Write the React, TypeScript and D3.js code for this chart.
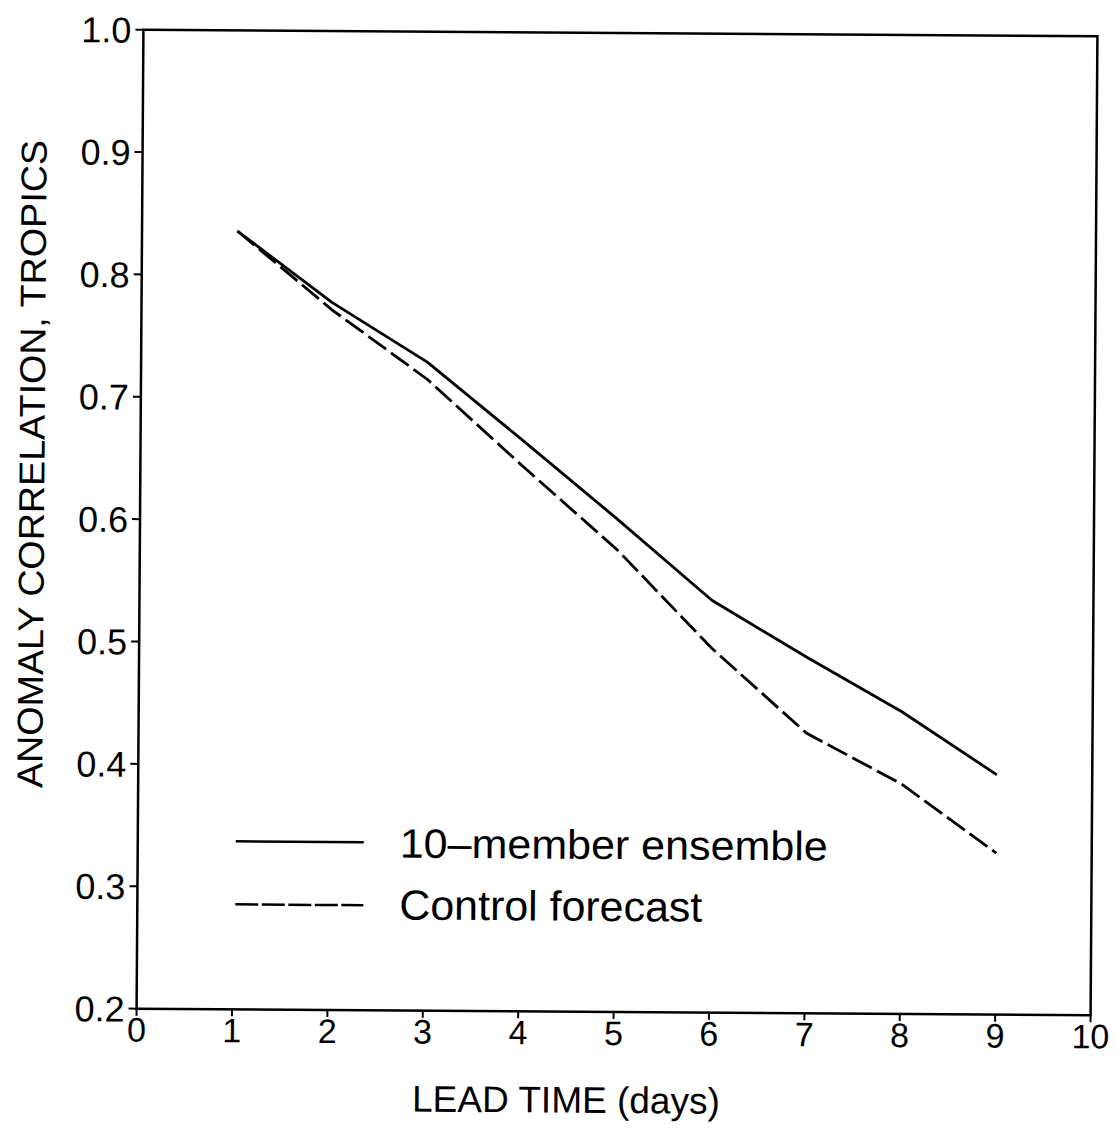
import React from "react";
import * as d3 from "d3";

const leadDays = [1, 2, 3, 4, 5, 6, 7, 8, 9];
const ensemble = [0.836, 0.778, 0.73, 0.667, 0.603, 0.537, 0.491, 0.447, 0.396];
const control = [0.836, 0.772, 0.716, 0.646, 0.578, 0.498, 0.429, 0.388, 0.332];
const xTicks = [0, 1, 2, 3, 4, 5, 6, 7, 8, 9, 10];
const yTicks = [0.2, 0.3, 0.4, 0.5, 0.6, 0.7, 0.8, 0.9, 1.0];
const legendLabels = ["10\u2013member ensemble", "Control forecast"];

const W = 1117;
const H = 1129;
const left = 140, right = 1094, top = 33, bottom = 1012;
const FONT = "'Liberation Sans', Arial, Helvetica, sans-serif";

export default function App() {
  const x = d3.scaleLinear().domain([0, 10]).range([left, right]);
  const y = d3.scaleLinear().domain([0.2, 1.0]).range([bottom, top]);
  const line = d3
    .line<[number, number]>()
    .x((d) => x(d[0]))
    .y((d) => y(d[1]));
  const ensPts = leadDays.map((d, i) => [d, ensemble[i]] as [number, number]);
  const ctlPts = leadDays.map((d, i) => [d, control[i]] as [number, number]);
  const cx = (left + right) / 2;
  const cy = (top + bottom) / 2;

  return (
    <svg width={W} height={H} style={{ display: "block", position: "absolute", left: 0, top: 0, background: "#fff" }}>
      <rect x={0} y={0} width={W} height={H} fill="#fff" />
      <g transform={`rotate(0.4 ${cx} ${cy})`} fontFamily={FONT} fill="#000">
        <rect x={left} y={top} width={right - left} height={bottom - top} fill="none" stroke="#000" strokeWidth={2.5} />
        {xTicks.map((t) => (
          <g key={"x" + t}>
            <line x1={x(t)} x2={x(t)} y1={bottom} y2={bottom + 7} stroke="#000" strokeWidth={2} />
            <text x={x(t)} y={bottom + 33} textAnchor="middle" fontSize={34}>
              {t}
            </text>
          </g>
        ))}
        {yTicks.map((t) => (
          <g key={"y" + t}>
            <line x1={left - 8} x2={left} y1={y(t)} y2={y(t)} stroke="#000" strokeWidth={2} />
            <text x={left - 12} y={y(t)} dy="0.36em" textAnchor="end" fontSize={36}>
              {t.toFixed(1)}
            </text>
          </g>
        ))}
        <path d={line(ensPts) || ""} fill="none" stroke="#000" strokeWidth={2.8} strokeLinejoin="round" />
        <path d={line(ctlPts) || ""} fill="none" stroke="#000" strokeWidth={2.8} strokeDasharray="22,6" />
        <line x1={238} x2={366} y1={844} y2={844} stroke="#000" strokeWidth={2.5} />
        <line x1={238} x2={366} y1={907} y2={907} stroke="#000" strokeWidth={2.5} strokeDasharray="23,3.5" />
        <text x={402} y={859} fontSize={41} textLength={428} lengthAdjust="spacingAndGlyphs">
          {legendLabels[0]}
        </text>
        <text x={402} y={921} fontSize={42} textLength={303} lengthAdjust="spacingAndGlyphs">
          {legendLabels[1]}
        </text>
        <text x={570} y={1113} textAnchor="middle" fontSize={37}>
          LEAD TIME (days)
        </text>
        <text
          transform="translate(44,468) rotate(-90)"
          textAnchor="middle"
          fontSize={36}
          textLength={648}
          lengthAdjust="spacingAndGlyphs"
        >
          ANOMALY CORRELATION, TROPICS
        </text>
      </g>
    </svg>
  );
}
